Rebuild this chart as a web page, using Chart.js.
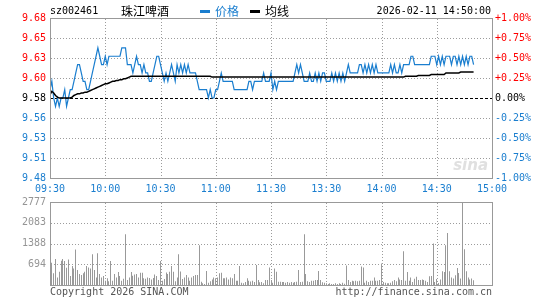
<!DOCTYPE html>
<html>
<head>
<meta charset="utf-8">
<script src="https://cdn.jsdelivr.net/npm/chart.js@4/dist/chart.umd.min.js"></script>
<style>
html,body{margin:0;padding:0;background:#fff;}
#wrap{position:relative;width:545px;height:300px;overflow:hidden;background:#fff;}
#c1{position:absolute;left:0;top:0;}
#c2{position:absolute;left:0;top:190px;}
</style>
</head>
<body>
<div id="wrap">
<canvas id="c1" width="545" height="196" style="width:545px;height:196px"></canvas>
<canvas id="c2" width="545" height="110" style="width:545px;height:110px"></canvas>
</div>
<script>
// ---------- data ----------
const stockCode = 'sz002461';
const stockName = '珠江啤酒';
const priceLabel = '价格';
const avgLabel = '均线';
const stamp = '2026-02-11 14:50:00';
const timeLabels = ['09:30','10:00','10:30','11:00','11:30','13:30','14:00','14:30','15:00'];
const prevClose = 9.58;
const pctSteps = [-1.00,-0.75,-0.50,-0.25,0,0.25,0.50,0.75,1.00];
const priceTickLabels = ['9.48','9.51','9.53','9.56','9.58','9.60','9.63','9.65','9.68'];
const pctTickLabels = ['-1.00%','-0.75%','-0.50%','-0.25%','0.00%','+0.25%','+0.50%','+0.75%','+1.00%'];
const volTickValues = [694.25, 1388.5, 2082.75, 2777];
const volTickLabels = ['694','1388','2083','2777'];
const volMax = 2777;

// one value per trading minute, 09:30 .. 14:50
const price = [
9.59,9.60,9.58,9.57,9.58,9.57,9.58,9.58,9.59,9.57,
9.58,9.59,9.59,9.60,9.61,9.62,9.62,9.61,9.60,9.60,
9.59,9.59,9.60,9.61,9.62,9.63,9.64,9.63,9.62,9.62,
9.63,9.62,9.63,9.63,9.63,9.63,9.63,9.63,9.63,9.64,
9.64,9.64,9.62,9.62,9.62,9.61,9.62,9.63,9.62,9.62,
9.61,9.62,9.61,9.61,9.60,9.60,9.61,9.62,9.63,9.63,
9.62,9.61,9.60,9.61,9.60,9.61,9.62,9.61,9.60,9.62,
9.61,9.62,9.61,9.62,9.61,9.62,9.61,9.61,9.61,9.61,
9.60,9.59,9.59,9.59,9.59,9.59,9.58,9.59,9.58,9.58,
9.59,9.59,9.60,9.61,9.60,9.60,9.60,9.60,9.60,9.60,
9.59,9.59,9.59,9.59,9.59,9.59,9.59,9.59,9.60,9.60,
9.59,9.60,9.60,9.60,9.60,9.60,9.61,9.60,9.60,9.60,
9.61,9.59,9.60,9.59,9.60,9.60,9.60,9.60,9.60,9.60,
9.60,9.60,9.60,9.61,9.62,9.61,9.62,9.61,9.60,9.60,
9.60,9.61,9.60,9.60,9.61,9.60,9.61,9.60,9.61,9.61,
9.60,9.60,9.60,9.61,9.60,9.61,9.60,9.61,9.60,9.61,
9.60,9.61,9.62,9.61,9.61,9.61,9.61,9.61,9.62,9.62,
9.61,9.62,9.61,9.62,9.61,9.62,9.61,9.62,9.61,9.61,
9.61,9.61,9.61,9.61,9.61,9.62,9.61,9.62,9.61,9.61,
9.62,9.61,9.62,9.62,9.62,9.62,9.63,9.63,9.62,9.62,
9.62,9.62,9.62,9.62,9.62,9.62,9.62,9.63,9.63,9.63,
9.62,9.63,9.62,9.63,9.62,9.63,9.63,9.63,9.62,9.63,
9.63,9.62,9.63,9.62,9.63,9.62,9.63,9.62,9.63,9.63,
9.62
];
const avgPrice = [
9.584,9.588,9.586,9.583,9.581,9.580,9.580,9.580,9.580,9.580,
9.580,9.580,9.581,9.583,9.584,9.585,9.585,9.586,9.586,9.587,
9.587,9.588,9.589,9.590,9.591,9.592,9.593,9.594,9.595,9.596,
9.597,9.597,9.598,9.599,9.600,9.600,9.601,9.601,9.602,9.602,
9.603,9.603,9.604,9.605,9.606,9.606,9.606,9.606,9.606,9.606,
9.606,9.606,9.606,9.606,9.606,9.606,9.606,9.606,9.606,9.606,
9.606,9.606,9.606,9.606,9.606,9.606,9.606,9.606,9.606,9.606,
9.606,9.606,9.606,9.606,9.606,9.606,9.606,9.606,9.606,9.606,
9.606,9.606,9.606,9.606,9.606,9.606,9.606,9.606,9.605,9.605,
9.605,9.605,9.605,9.605,9.605,9.605,9.605,9.605,9.605,9.605,
9.605,9.605,9.605,9.605,9.605,9.605,9.605,9.605,9.605,9.605,
9.605,9.605,9.605,9.605,9.605,9.605,9.605,9.605,9.605,9.605,
9.605,9.605,9.605,9.605,9.605,9.605,9.605,9.605,9.605,9.605,
9.605,9.605,9.605,9.605,9.605,9.605,9.605,9.605,9.605,9.605,
9.605,9.605,9.605,9.605,9.605,9.605,9.605,9.605,9.605,9.605,
9.605,9.605,9.605,9.605,9.605,9.605,9.605,9.605,9.605,9.605,
9.605,9.605,9.605,9.605,9.605,9.605,9.605,9.605,9.605,9.605,
9.605,9.605,9.605,9.605,9.605,9.605,9.605,9.605,9.605,9.605,
9.605,9.605,9.605,9.605,9.605,9.605,9.605,9.605,9.605,9.605,
9.605,9.605,9.605,9.606,9.606,9.606,9.606,9.606,9.606,9.606,
9.607,9.607,9.607,9.607,9.607,9.607,9.607,9.608,9.608,9.608,
9.608,9.608,9.608,9.608,9.608,9.610,9.610,9.610,9.610,9.610,
9.610,9.610,9.610,9.611,9.611,9.611,9.611,9.611,9.611,9.611,
9.611
];
const volume = [
110,744,390,866,255,444,810,866,800,577,
855,300,633,555,1188,500,366,333,390,444,
633,588,555,1033,500,255,1066,366,255,300,
144,222,122,800,144,366,255,433,300,144,
210,1700,166,255,433,310,355,366,255,411,
411,222,211,255,233,180,233,355,300,166,
800,144,200,422,366,444,633,444,122,255,
1033,455,200,255,333,255,144,255,300,333,
333,1330,111,55,33,466,77,122,188,255,
222,255,390,411,222,222,255,188,255,222,
366,144,144,633,77,55,100,222,144,120,
144,100,666,166,88,100,55,166,166,588,
166,77,555,444,111,111,100,100,77,100,
77,100,77,100,111,500,100,111,1700,366,
122,100,144,144,166,166,466,166,88,77,
55,33,55,33,33,55,33,55,33,77,
40,655,166,100,144,122,144,122,144,622,
588,77,144,100,144,144,255,144,144,166,
722,100,77,55,55,77,122,166,122,255,
188,166,1133,144,433,144,255,100,211,277,
166,166,188,166,144,100,291,300,1385,100,
200,67,181,458,435,1328,1740,458,247,214,
325,569,401,214,2777,1194,458,247,181,214,
157
];

// ---------- styles ----------
const MONO = '"DejaVu Sans Mono", "Liberation Mono", monospace';
const CJK = '"Noto Sans CJK SC", "Noto Sans", sans-serif';
const BLUE = '#1a7ecf';
const RED = '#ff0000';
const GRID = '#9c9c9c';
const FRAME = '#999999';

function pctColor(i){
  const p = pctSteps[i];
  if (p > 0) return RED;
  if (p < 0) return BLUE;
  return '#000000';
}

// dotted grid drawn at the positions of the library's own ticks
function makeGrid(skipY){
  return {
    id: 'dotGrid',
    beforeDatasetsDraw(chart){
      const {ctx, chartArea: a} = chart;
      ctx.save();
      ctx.strokeStyle = GRID;
      ctx.lineWidth = 1;
      ctx.setLineDash([1, 2]);
      const xs = chart.scales.x;
      xs.ticks.forEach((t, i) => {
        if (i === 0 || i === xs.ticks.length - 1) return;
        const x = Math.round(xs.getPixelForValue(t.value)) + 0.5;
        ctx.beginPath(); ctx.moveTo(x, a.top + 1); ctx.lineTo(x, a.bottom); ctx.stroke();
      });
      const ys = chart.scales.y;
      ys.ticks.forEach((t, i) => {
        if (skipY(i, ys.ticks.length)) return;
        const y = Math.round(ys.getPixelForValue(t.value)) + 0.5;
        ctx.beginPath(); ctx.moveTo(a.left + 1, y); ctx.lineTo(a.right, y); ctx.stroke();
      });
      ctx.restore();
    }
  };
}

const framePlugin = {
  id: 'frame',
  afterDraw(chart){
    const {ctx, chartArea: a} = chart;
    ctx.save();
    ctx.strokeStyle = FRAME;
    ctx.lineWidth = 1;
    ctx.setLineDash([]);
    ctx.strokeRect(Math.round(a.left) + 0.5, Math.round(a.top) + 0.5,
                   Math.round(a.right - a.left), Math.round(a.bottom - a.top));
    ctx.restore();
  }
};

const priceDecor = {
  id: 'priceDecor',
  beforeDatasetsDraw(chart){
    const {ctx, chartArea: a} = chart;
    const y0 = Math.round(chart.scales.y.getPixelForValue(prevClose)) + 0.5;
    ctx.save();
    ctx.font = 'italic bold 15px "DejaVu Sans", sans-serif';
    ctx.fillStyle = '#e0e0e0';
    ctx.textAlign = 'right';
    ctx.textBaseline = 'alphabetic';
    ctx.fillText('sina', a.right - 4, a.bottom - 8);
    ctx.strokeStyle = '#000000';
    ctx.lineWidth = 1;
    ctx.setLineDash([3, 2]);
    ctx.beginPath();
    ctx.moveTo(a.left, y0);
    ctx.lineTo(a.right, y0);
    ctx.stroke();
    ctx.restore();
  },
  afterDraw(chart){
    const {ctx, chartArea: a} = chart;
    const ds = chart.data.datasets;
    ctx.save();
    ctx.textBaseline = 'middle';
    ctx.textAlign = 'left';
    ctx.font = '10px ' + MONO;
    ctx.fillStyle = '#000000';
    ctx.fillText(stockCode, a.left, 11);
    ctx.font = '12px ' + CJK;
    ctx.fillText(stockName, 121, 11);
    const items = [ds[1], ds[0]];
    const xs = [200, 250];
    items.forEach((d, i) => {
      ctx.fillStyle = d.borderColor;
      ctx.fillRect(xs[i], 10, 10, 3);
      ctx.fillText(d.label, xs[i] + 15, 11);
    });
    ctx.font = '10px ' + MONO;
    ctx.fillStyle = '#000000';
    ctx.textAlign = 'right';
    ctx.fillText(stamp, a.right - 1, 11);
    ctx.restore();
  }
};

const volDecor = {
  id: 'volDecor',
  beforeDatasetsDraw(chart){
    // snap the 1px bars onto whole pixels so they stay crisp
    chart.getDatasetMeta(0).data.forEach(el => { el.x = Math.floor(el.x) + 0.5; });
  },
  afterDraw(chart){
    const {ctx, chartArea: a} = chart;
    ctx.save();
    ctx.font = '10px ' + MONO;
    ctx.fillStyle = '#555555';
    ctx.textBaseline = 'middle';
    ctx.textAlign = 'left';
    ctx.fillText('Copyright 2026 SINA.COM', a.left, 102);
    ctx.textAlign = 'right';
    ctx.fillText('http://finance.sina.com.cn', a.right, 102);
    ctx.restore();
  }
};

const timeAxis = (showLabels, h) => ({
  type: 'linear', min: 0, max: 240, offset: false,
  afterBuildTicks: s => { s.ticks = timeLabels.map((_, i) => ({value: i * 30})); },
  afterFit: s => { s.height = h; },
  ticks: {
    display: showLabels, autoSkip: false, maxRotation: 0, minRotation: 0, padding: 5,
    color: BLUE, font: {family: MONO, size: 10},
    callback: (v, i) => timeLabels[i]
  },
  grid: {display: false, drawTicks: false},
  border: {display: false}
});

new Chart(document.getElementById('c1'), {
  type: 'line',
  data: {
    datasets: [
      {label: avgLabel, data: avgPrice.map((v, i) => ({x: i, y: v})), borderColor: '#000000',
       borderWidth: 1.5, pointRadius: 0, tension: 0, yAxisID: 'y', xAxisID: 'x'},
      {label: priceLabel, data: price.map((v, i) => ({x: i, y: v})), borderColor: BLUE,
       borderWidth: 1.2, pointRadius: 0, tension: 0, yAxisID: 'y', xAxisID: 'x'}
    ]
  },
  options: {
    responsive: false, animation: false, events: [],
    layout: {padding: {top: 18, left: 0, right: 0, bottom: 0}},
    plugins: {legend: {display: false}, tooltip: {enabled: false}},
    scales: {
      x: timeAxis(true, 18),
      y: {
        type: 'linear', position: 'left',
        min: prevClose * (1 + pctSteps[0] / 100),
        max: prevClose * (1 + pctSteps[pctSteps.length - 1] / 100),
        afterBuildTicks: s => { s.ticks = pctSteps.map(p => ({value: prevClose * (1 + p / 100)})); },
        afterFit: s => { s.width = 50; },
        ticks: {padding: 4, font: {family: MONO, size: 10}, color: c => pctColor(c.index),
                callback: (v, i) => priceTickLabels[i]},
        grid: {display: false, drawTicks: false},
        border: {display: false}
      },
      yp: {
        type: 'linear', position: 'right', display: true,
        min: pctSteps[0], max: pctSteps[pctSteps.length - 1],
        afterBuildTicks: s => { s.ticks = pctSteps.map(p => ({value: p})); },
        afterFit: s => { s.width = 53; },
        ticks: {padding: 3, font: {family: MONO, size: 10}, color: c => pctColor(c.index),
                callback: (v, i) => pctTickLabels[i]},
        grid: {display: false, drawTicks: false},
        border: {display: false}
      }
    }
  },
  plugins: [makeGrid((i, n) => i === 0 || i === 4 || i === n - 1), priceDecor, framePlugin]
});

new Chart(document.getElementById('c2'), {
  type: 'bar',
  data: {
    datasets: [{label: 'volume', data: volume.map((v, i) => ({x: i, y: v})),
      backgroundColor: '#999999', borderWidth: 0, barThickness: 1, inflateAmount: 0}]
  },
  options: {
    responsive: false, animation: false, events: [],
    layout: {padding: {top: 12, left: 0, right: 53, bottom: 0}},
    plugins: {legend: {display: false}, tooltip: {enabled: false}},
    scales: {
      x: timeAxis(false, 15),
      y: {
        type: 'linear', position: 'left', min: 0, max: volMax,
        afterBuildTicks: s => { s.ticks = volTickValues.map(v => ({value: v})); },
        afterFit: s => { s.width = 50; },
        ticks: {padding: 4, font: {family: MONO, size: 10}, color: '#959595',
                callback: (v, i) => volTickLabels[i]},
        grid: {display: false, drawTicks: false},
        border: {display: false}
      }
    }
  },
  plugins: [makeGrid((i, n) => i === n - 1), volDecor, framePlugin]
});
</script>
</body>
</html>
